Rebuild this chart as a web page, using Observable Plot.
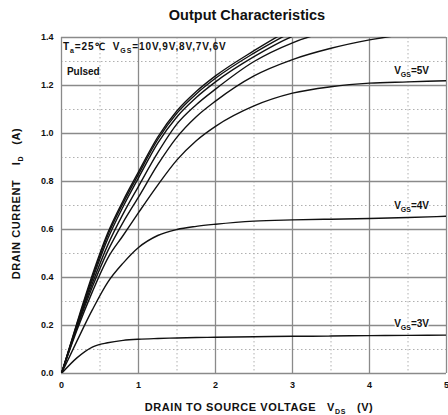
<!DOCTYPE html>
<html><head><meta charset="utf-8">
<script src="https://cdn.jsdelivr.net/npm/d3@7"></script>
<script src="https://cdn.jsdelivr.net/npm/@observablehq/plot@0.6"></script>
<style>
body{margin:0;background:#fff;font-family:"Liberation Sans",Arial,sans-serif;}
#title{box-sizing:border-box;height:30px;width:448px;padding-left:46px;padding-top:8px;text-align:center;font-weight:bold;font-size:14.5px;line-height:15px;color:#111;}
</style></head><body>
<div id="title">Output Characteristics</div>
<div id="chart"></div>
<script>
// Drain-source voltage sample points (V)
const vds = [0, 0.2, 0.4, 0.6, 0.8, 1.0, 1.25, 1.5, 1.75, 2.0, 2.5, 3.0, 3.5, 4.0, 4.5, 5.0];
// Gate voltages
const vgsNames = ["10V", "9V", "8V", "7V", "6V", "5V", "4V", "3V"];
// Drain current (A) for each gate voltage
const id10 = [0, 0.21, 0.41, 0.585, 0.72, 0.84, 0.985, 1.095, 1.175, 1.24, 1.345, 1.44];
const id9  = [0, 0.205, 0.40, 0.575, 0.71, 0.83, 0.975, 1.085, 1.165, 1.23, 1.335, 1.425];
const id8  = [0, 0.20, 0.39, 0.56, 0.695, 0.815, 0.96, 1.07, 1.15, 1.215, 1.32, 1.405, 1.46];
const id7  = [0, 0.195, 0.375, 0.535, 0.665, 0.78, 0.92, 1.04, 1.12, 1.185, 1.30, 1.378, 1.43];
const id6  = [0, 0.19, 0.36, 0.51, 0.63, 0.735, 0.87, 0.985, 1.07, 1.135, 1.24, 1.308, 1.355, 1.39, 1.415];
const id5  = [0, 0.18, 0.34, 0.48, 0.575, 0.67, 0.785, 0.89, 0.97, 1.03, 1.115, 1.168, 1.195, 1.21, 1.215, 1.22];
const id4  = [0, 0.135, 0.265, 0.38, 0.46, 0.525, 0.575, 0.60, 0.613, 0.622, 0.635, 0.64, 0.643, 0.646, 0.65, 0.655];
const id3  = [0, 0.065, 0.11, 0.128, 0.138, 0.143, 0.146, 0.148, 0.15, 0.151, 0.153, 0.155, 0.156, 0.158, 0.159, 0.16];
const series = [id10, id9, id8, id7, id6, id5, id4, id3];

// Ticks and grid
const xMajor = [0, 1, 2, 3, 4, 5];
const xMinor = [0.5, 1.5, 2.5, 3.5, 4.5];
const yMajor = [0, 0.2, 0.4, 0.6, 0.8, 1.0, 1.2, 1.4];
const yMinor = [0.1, 0.3, 0.5, 0.7, 0.9, 1.1, 1.3];

// Texts
const curveLabels = [
  {x: 4.32, y: 1.262, t: "V_{GS}=5V"},
  {x: 4.32, y: 0.70, t: "V_{GS}=4V"},
  {x: 4.32, y: 0.208, t: "V_{GS}=3V"}
];
const noteLine1 = [{x: 0.02, y: 1.362, t: "T_{a}=25℃  V_{GS}=10V,9V,8V,7V,6V"}];
const noteLine2 = [{x: 0.07, y: 1.258, t: "Pulsed"}];
const xTitle = "DRAIN TO SOURCE VOLTAGE   V_{DS}   (V)";
const yTitle = "DRAIN CURRENT    I_{D}   (A)";

const rows = [];
series.forEach((ys, i) => ys.forEach((v, j) => rows.push({vgs: vgsNames[i], vds: vds[j], id: v})));

const plot = Plot.plot({
  width: 448, height: 385,
  marginLeft: 61, marginRight: 2, marginTop: 7, marginBottom: 42,
  style: {fontFamily: "'Liberation Sans', Arial, sans-serif", fontSize: "9px", fontWeight: "bold", color: "#111", background: "#fff"},
  x: {domain: [0, 5]},
  y: {domain: [0, 1.4]},
  marks: [
    Plot.ruleX(xMinor, {stroke: "#b0b0b0", strokeWidth: 1, strokeDasharray: "1.5,2.5"}),
    Plot.ruleY(yMinor, {stroke: "#b0b0b0", strokeWidth: 1, strokeDasharray: "1.5,2.5"}),
    Plot.ruleX(xMajor, {stroke: "#8a8a8a", strokeWidth: 1.3}),
    Plot.ruleY(yMajor, {stroke: "#8a8a8a", strokeWidth: 1.3}),
    Plot.axisX({ticks: xMajor, tickSize: 0, tickPadding: 8, tickFormat: d => String(d), label: null}),
    Plot.axisY({ticks: yMajor, tickSize: 0, tickPadding: 8, tickFormat: d3.format(".1f"), label: null}),
    Plot.line(rows, {x: "vds", y: "id", z: "vgs", curve: "monotone-x", stroke: "#111", strokeWidth: 1.4, clip: true}),
    Plot.text(curveLabels, {x: "x", y: "y", text: "t", textAnchor: "start", lineAnchor: "middle", fontSize: 10, fontWeight: "bold", fill: "#111", stroke: "white", strokeWidth: 3}),
    Plot.text(noteLine1, {x: "x", y: "y", text: "t", textAnchor: "start", lineAnchor: "middle", fontSize: 10, fontWeight: "bold", fill: "#111", className: "note1"}),
    Plot.text(noteLine2, {x: "x", y: "y", text: "t", textAnchor: "start", lineAnchor: "middle", fontSize: 10, fontWeight: "bold", fill: "#111"}),
    Plot.text([xTitle], {frameAnchor: "bottom", dy: 34, dx: 5, textAnchor: "middle", lineAnchor: "middle", fontSize: 11, fontWeight: "bold", fill: "#111", className: "xtitle"}),
    Plot.text([yTitle], {frameAnchor: "left", dx: -45, dy: -2, rotate: -90, textAnchor: "middle", lineAnchor: "middle", fontSize: 11, fontWeight: "bold", fill: "#111", className: "ytitle"})
  ]
});

// subscripts as tspans
const NS = "http://www.w3.org/2000/svg";
plot.querySelectorAll("text").forEach(t => {
  const s = t.textContent;
  if (!s.includes("_{")) return;
  const parts = s.split(/(_\{[^}]*\})/);
  t.textContent = "";
  let shifted = false;
  for (const p of parts) {
    if (!p) continue;
    const ts = document.createElementNS(NS, "tspan");
    if (p.startsWith("_{")) {
      ts.textContent = p.slice(2, -1);
      ts.setAttribute("dy", "3");
      ts.setAttribute("font-size", "7");
      shifted = true;
    } else {
      ts.textContent = p;
      if (shifted) { ts.setAttribute("dy", "-3"); shifted = false; }
    }
    t.appendChild(ts);
  }
  t.style.whiteSpace = "pre";
});
plot.querySelectorAll("g[stroke='white']").forEach(g => g.setAttribute("paint-order", "stroke"));
plot.querySelectorAll(".note1 text").forEach(t => t.style.letterSpacing = "0.9px");
plot.querySelectorAll(".xtitle text, .ytitle text").forEach(t => t.style.letterSpacing = "0.6px");
document.getElementById("chart").appendChild(plot);
</script>
</body></html>
